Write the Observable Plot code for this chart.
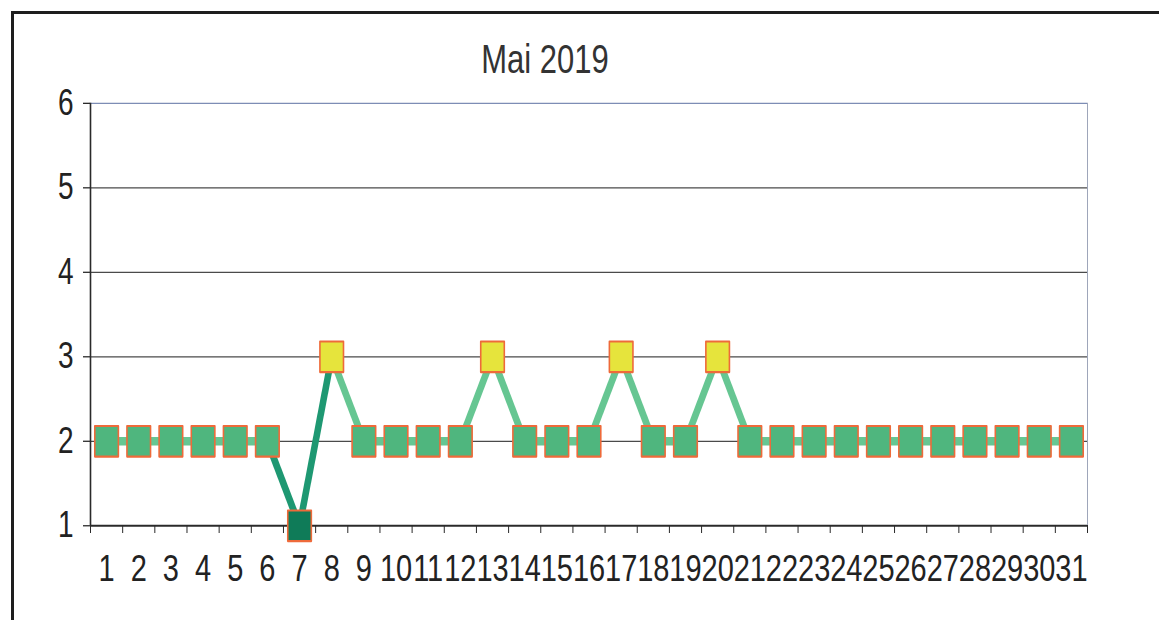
<!DOCTYPE html>
<html>
<head>
<meta charset="utf-8">
<script src="https://cdn.jsdelivr.net/npm/d3@7"></script>
<script src="https://cdn.jsdelivr.net/npm/@observablehq/plot@0.6"></script>
<style>
  html, body { margin: 0; padding: 0; background: #fff; overflow: hidden; }
  #wrap { position: relative; width: 1159px; height: 620px; overflow: hidden; background: #fff; }
  #frame { position: absolute; left: 11px; top: 11px; width: 1300px; height: 800px;
           border-left: 3px solid #1e1e1e; border-top: 3px solid #1e1e1e; }
  #chart { position: absolute; left: 0; top: 0; }
</style>
</head>
<body>
<div id="wrap"><div id="frame"></div><div id="chart"></div></div>
<script>
// ---- data ----
const title = "Mai 2019";
const days = [1,2,3,4,5,6,7,8,9,10,11,12,13,14,15,16,17,18,19,20,21,22,23,24,25,26,27,28,29,30,31];
const values = [2,2,2,2,2,2,1,3,2,2,2,2,3,2,2,2,3,2,2,3,2,2,2,2,2,2,2,2,2,2,2];
const yTicks = [1,2,3,4,5,6];
const gridLevels = [2,3,4,5];
const colorDomain = [1,2,3];
const colorRange = ["#0f7b58", "#4fb67e", "#e6e43c"];

// derived tables
const points = days.map((d, i) => ({day: d, value: values[i]}));
const segments = points.slice(0, -1).map((p, i) => ({
  x1: p.day, y1: p.value, x2: points[i + 1].day, y2: points[i + 1].value,
  low: Math.min(p.value, points[i + 1].value)
}));
const boundaries = days.map(d => d - 0.5).concat([days[days.length - 1] + 0.5]);
const xDomain = [boundaries[0], boundaries[boundaries.length - 1]];

// The scan is stretched vertically by ~1.3; draw at a compressed height and stretch.
const H = 477;
const svg = Plot.plot({
  width: 1159,
  height: H,
  marginLeft: 90,
  marginRight: 72,
  marginTop: 79,
  marginBottom: 73,
  style: {fontFamily: "'Liberation Sans', Arial, sans-serif", background: "transparent", color: "#222", overflow: "visible"},
  x: {type: "linear", domain: xDomain, axis: null},
  y: {domain: [yTicks[0], yTicks[yTicks.length - 1]], axis: null},
  color: {type: "ordinal", domain: colorDomain, range: colorRange},
  marks: [
    Plot.ruleY(gridLevels, {stroke: "#4a4a4a", strokeWidth: 1}),
    Plot.ruleY([yTicks[yTicks.length - 1]], {stroke: "#7d8db5", strokeWidth: 1}),
    Plot.ruleX([xDomain[1]], {stroke: "#9ea6ba", strokeWidth: 1}),
    Plot.ruleX([xDomain[0]], {stroke: "#2a2a2a", strokeWidth: 1.6}),
    Plot.ruleY([yTicks[0]], {stroke: "#2a2a2a", strokeWidth: 1.6}),
    Plot.axisY({ticks: yTicks, tickSize: 7, tickPadding: 10, fontSize: 28, tickFormat: d => String(d), stroke: "#2a2a2a", fill: "#222"}),
    Plot.axisX({ticks: boundaries, tickSize: 6, tickFormat: () => "", stroke: "#2a2a2a"}),
    Plot.axisX({ticks: days, tickSize: 0, tickPadding: 22, fontSize: 29, tickFormat: d => String(d), fill: "#222"}),
    Plot.link(segments, {
      x1: "x1", y1: "y1", x2: "x2", y2: "y2",
      stroke: d => d.low === 1 ? "#1e9872" : "#66c692",
      strokeWidth: 6.5
    }),
    Plot.dot(points, {
      x: "day", y: "value", symbol: "square", r: 13.3,
      fill: "value", stroke: "#ee6a3a", strokeWidth: 1.6, strokeLinejoin: "round"
    }),
    Plot.text([title], {frameAnchor: "top", dx: -44, dy: -33, lineAnchor: "middle", fontSize: 31, fill: "#333"})
  ]
});
svg.setAttribute("height", 620);
svg.setAttribute("preserveAspectRatio", "none");
svg.style.height = "620px";
svg.style.width = "1159px";
svg.style.maxWidth = "none";
document.getElementById("chart").appendChild(svg);
</script>
</body>
</html>
